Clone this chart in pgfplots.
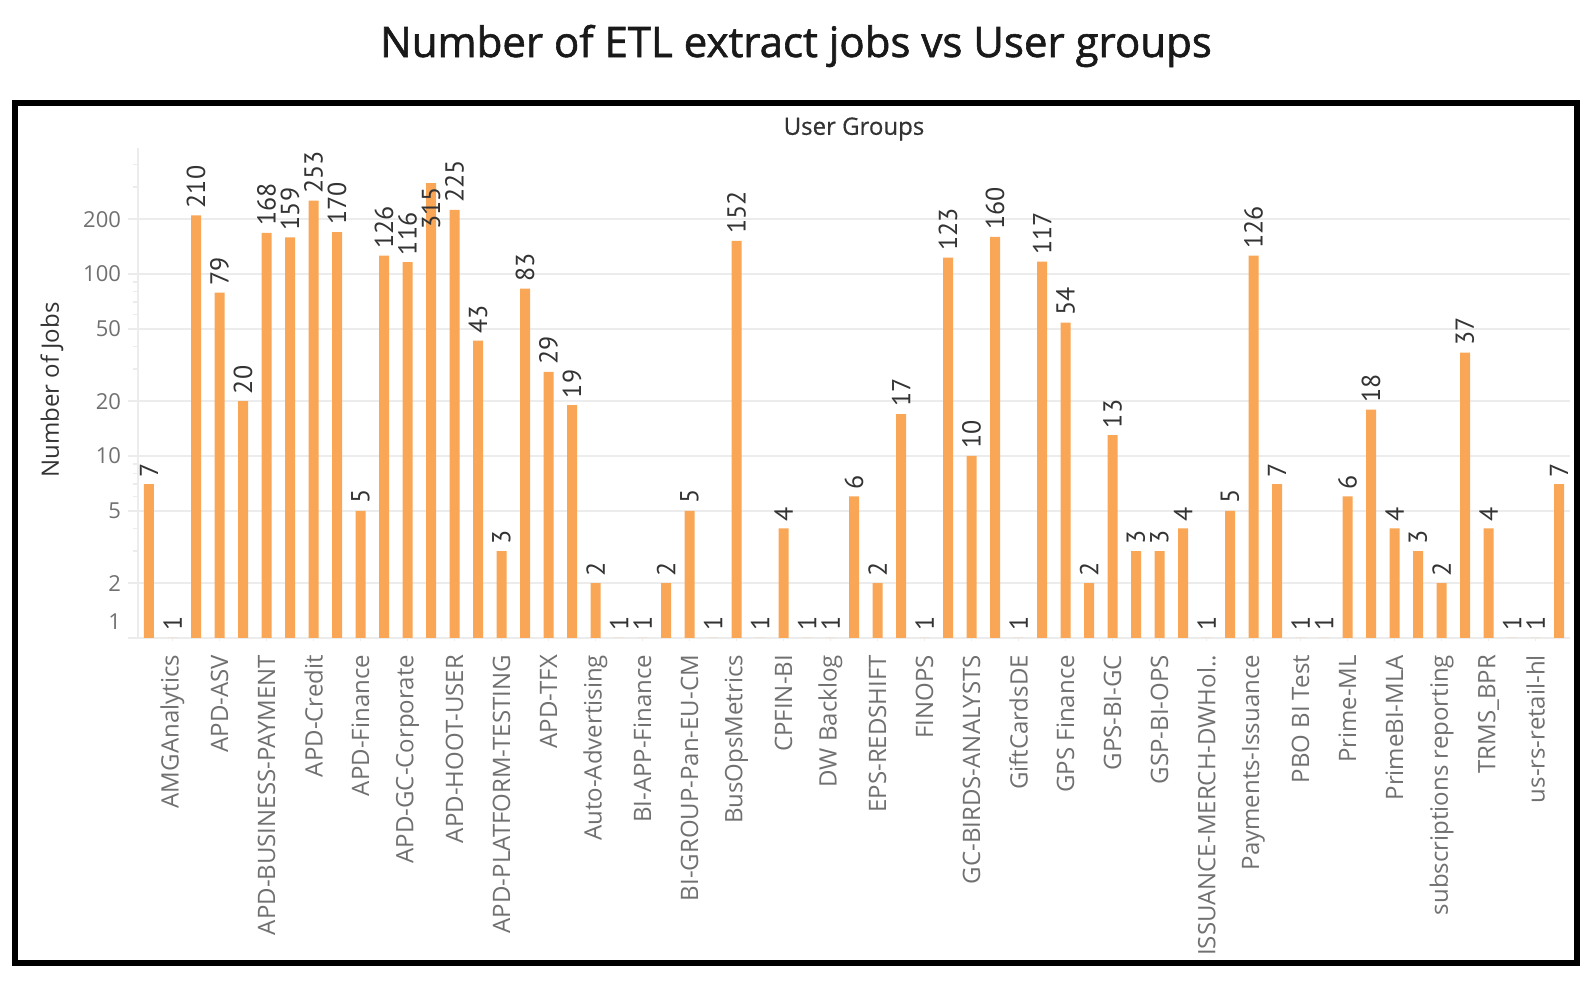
\documentclass[border=0pt]{standalone}
\usepackage{fontspec}
\setmainfont{Open Sans}
\newfontfamily\ptsans{PT Sans}
\newfontfamily\titlefont{Open Sans}[FakeBold=1.4]
\newfontfamily\headfont{Open Sans}[FakeBold=0.5]
\usepackage{pgfplots}
\pgfplotsset{compat=1.18}
\usepackage{pgfplotstable}

\definecolor{barorange}{RGB}{249,166,87}
\definecolor{gridgray}{RGB}{236,236,236}
\definecolor{ticklab}{RGB}{112,112,112}
\definecolor{darktext}{RGB}{51,51,51}

% index, jobs, label (the 315 label is placed separately, as in the original)
\pgfplotstableread{
x y lab
0 7 7
1 1 1
2 210 210
3 79 79
4 20 20
5 168 168
6 159 159
7 253 253
8 170 170
9 5 5
10 126 126
11 116 116
12 315 {}
13 225 225
14 43 43
15 3 3
16 83 83
17 29 29
18 19 19
19 2 2
20 1 1
21 1 1
22 2 2
23 5 5
24 1 1
25 152 152
26 1 1
27 4 4
28 1 1
29 1 1
30 6 6
31 2 2
32 17 17
33 1 1
34 123 123
35 10 10
36 160 160
37 1 1
38 117 117
39 54 54
40 2 2
41 13 13
42 3 3
43 3 3
44 4 4
45 1 1
46 5 5
47 126 126
48 7 7
49 1 1
50 1 1
51 6 6
52 18 18
53 4 4
54 3 3
55 2 2
56 37 37
57 4 4
58 1 1
59 1 1
60 7 7
}\jobs

\begin{document}
\begin{tikzpicture}
\path[use as bounding box] (0,0) rectangle (795pt,492pt);

\node[font=\titlefont\fontsize{21pt}{25pt}\selectfont, text=black!90] at (398pt,469pt) {Number of ETL extract jobs vs User groups};
\draw[line width=3pt] (7.5pt,10.5pt) rectangle (788.5pt,440.5pt);
\node[font=\headfont\fontsize{12pt}{14pt}\selectfont, text=darktext] at (427pt,427.5pt) {User Groups};
\node[rotate=90, font=\fontsize{12pt}{14pt}\selectfont, text=darktext] at (26pt,297pt) {Number of Jobs};

\begin{axis}[
  at={(69pt,173pt)}, anchor=south west,
  scale only axis, width=716pt, height=245pt,
  ymode=log, ymin=1, ymax=492,
  xmin=-0.468, xmax=60.468,
  axis line style={draw=none},
  clip=false,
  tick pos=left,
  ytick={1,2,5,10,20,50,100,200},
  yticklabels={\smash{\raisebox{4pt}{1}},2,5,10,20,50,100,200},
  minor ytick={3,4,6,7,8,9,30,40,60,70,80,90,300,400},
  ymajorgrids,
  major grid style={draw=gridgray, line width=0.8pt},
  tick align=outside,
  major tick length=5pt, minor tick length=2.5pt,
  ytick style={draw=gridgray, line width=0.8pt},
  yticklabel style={font=\fontsize{11pt}{13pt}\selectfont, text=ticklab},
  xtick={1,3,...,59},
  xticklabels={AMGAnalytics,APD-ASV,APD-BUSINESS-PAYMENT,APD-Credit,APD-Finance,APD-GC-Corporate,APD-HOOT-USER,APD-PLATFORM-TESTING,APD-TFX,Auto-Advertising,BI-APP-Finance,BI-GROUP-Pan-EU-CM,BusOpsMetrics,CPFIN-BI,DW Backlog,EPS-REDSHIFT,FINOPS,GC-BIRDS-ANALYSTS,GiftCardsDE,GPS Finance,GPS-BI-GC,GSP-BI-OPS,ISSUANCE-MERCH-DWHol..,Payments-Issuance,PBO BI Test,Prime-ML,PrimeBI-MLA,subscriptions reporting,TRMS\_BPR,us-rs-retail-hl},
  xtick style={draw=gridgray, line width=0.8pt, /pgfplots/major tick length=1.5pt},
  xticklabel style={rotate=90, anchor=east, font=\fontsize{12pt}{14pt}\selectfont, text=ticklab},
  every node near coord/.append style={rotate=90, anchor=west, font=\ptsans\fontsize{13pt}{15pt}\selectfont, text=darktext},
]
\addplot[ybar, bar width=5pt, bar shift=0pt, fill=barorange, draw=none,
  point meta=explicit symbolic, nodes near coords]
  table[x=x, y=y, meta=lab] {\jobs};
% label of the tallest bar sits inside it
\addplot[draw=none, mark=none, forget plot, point meta=explicit symbolic, nodes near coords]
  coordinates {(12,160) [315]};
\draw[gridgray, line width=0.8pt] (rel axis cs:0,0) -- (rel axis cs:0,1);
\end{axis}
\end{tikzpicture}
\end{document}
